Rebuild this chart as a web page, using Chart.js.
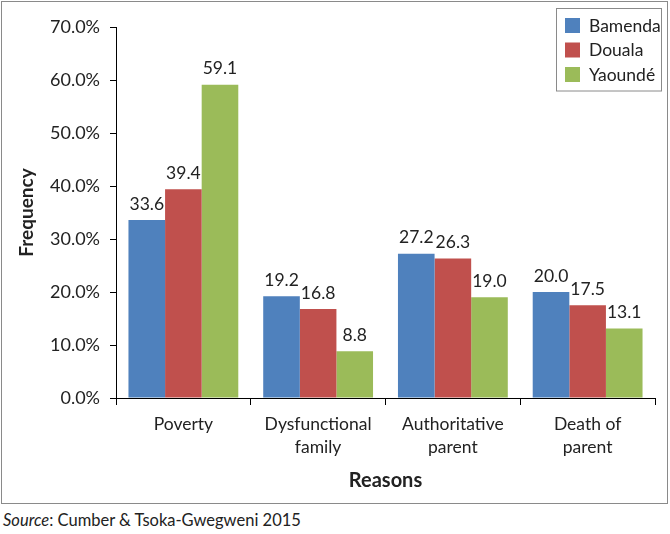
<!DOCTYPE html>
<html>
<head>
<meta charset="utf-8">
<script src="https://cdn.jsdelivr.net/npm/chart.js@4"></script>
<style>
  html, body { margin: 0; padding: 0; background: #fff; }
  #frame { position: absolute; left: 1px; top: 1px; width: 667px; height: 503px; border: 1px solid #8a8a8a; box-sizing: border-box; }
  #wrap { position: absolute; left: 0; top: 0; width: 670px; height: 507px; }
  #src { position: absolute; left: 3px; top: 510px; font-family: Lato, sans-serif; font-size: 16.5px; color: #222; white-space: nowrap; }
</style>
</head>
<body>
<div id="frame"></div>
<div id="wrap"><canvas id="c" width="670" height="507"></canvas></div>
<div id="src"><i>Source</i>: Cumber &amp; Tsoka-Gwegweni 2015</div>
<script>
const categories = [["Poverty"], ["Dysfunctional", "family"], ["Authoritative", "parent"], ["Death of", "parent"]];
const seriesNames = ["Bamenda", "Douala", "Yaoundé"];
const bamenda = [33.6, 19.2, 27.2, 20.0];
const douala = [39.4, 16.8, 26.3, 17.5];
const yaounde = [59.1, 8.8, 19.0, 13.1];
const yTicks = [0, 10, 20, 30, 40, 50, 60, 70];
const colors = ["#4F81BD", "#C0504D", "#9BBB59"];

const FONT = "Lato, 'Open Sans', sans-serif";
const TXT = "#222222";

const valueLabels = {
  id: "valueLabels",
  afterDatasetsDraw(chart) {
    const ctx = chart.ctx;
    ctx.save();
    ctx.font = "17.5px " + FONT;
    ctx.fillStyle = TXT;
    ctx.textAlign = "center";
    ctx.textBaseline = "middle";
    chart.data.datasets.forEach((ds, i) => {
      chart.getDatasetMeta(i).data.forEach((bar, j) => {
        ctx.fillText(ds.data[j].toFixed(1), bar.x, bar.y - 16);
      });
    });
    ctx.restore();
  }
};

const boxLegend = {
  id: "boxLegend",
  afterDraw(chart) {
    const ctx = chart.ctx;
    ctx.save();
    ctx.strokeStyle = "#8a8a8a";
    ctx.lineWidth = 1;
    ctx.strokeRect(556.5, 8.5, 105, 82.5);
    ctx.font = "17.5px " + FONT;
    ctx.textBaseline = "middle";
    ctx.textAlign = "left";
    chart.data.datasets.forEach((ds, i) => {
      const y = 18 + i * 24.5;
      ctx.fillStyle = ds.backgroundColor;
      ctx.fillRect(565, y, 15, 15);
      ctx.fillStyle = TXT;
      ctx.fillText(ds.label, 589, y + 8);
    });
    ctx.restore();
  }
};

new Chart(document.getElementById("c"), {
  type: "bar",
  data: {
    labels: categories,
    datasets: [
      { label: seriesNames[0], data: bamenda, backgroundColor: colors[0] },
      { label: seriesNames[1], data: douala, backgroundColor: colors[1] },
      { label: seriesNames[2], data: yaounde, backgroundColor: colors[2] }
    ]
  },
  options: {
    responsive: false,
    animation: false,
    devicePixelRatio: 1,
    categoryPercentage: 0.815,
    barPercentage: 1,
    layout: { padding: { left: 0, right: 15, top: 27, bottom: 0 } },
    plugins: { legend: { display: false }, tooltip: { enabled: false } },
    scales: {
      x: {
        grid: { display: true, drawOnChartArea: false, tickLength: 7, color: "#000", offset: true },
        border: { display: true, color: "#000" },
        ticks: { font: { family: FONT, size: 17.5, lineHeight: 1.32 }, color: TXT, padding: 8, maxRotation: 0, autoSkip: false },
        title: { display: true, text: "Reasons", font: { family: FONT, size: 20, weight: "bold" }, color: TXT, padding: { top: 0, bottom: 14 } },
        afterFit(s) { s.height = 109; }
      },
      y: {
        min: 0, max: 70,
        afterBuildTicks(s) { s.ticks = yTicks.map(v => ({ value: v })); },
        grid: { display: true, drawOnChartArea: false, tickLength: 6, color: "#000" },
        border: { display: true, color: "#000" },
        ticks: { font: { family: FONT, size: 18 }, color: TXT, padding: 10, callback: v => v.toFixed(1) + "%" },
        title: { display: true, text: "Frequency", font: { family: FONT, size: 19, weight: "bold" }, color: TXT, padding: { top: 15, bottom: 0 } },
        afterFit(s) { s.width = 116; }
      }
    }
  },
  plugins: [valueLabels, boxLegend]
});
</script>
</body>
</html>
